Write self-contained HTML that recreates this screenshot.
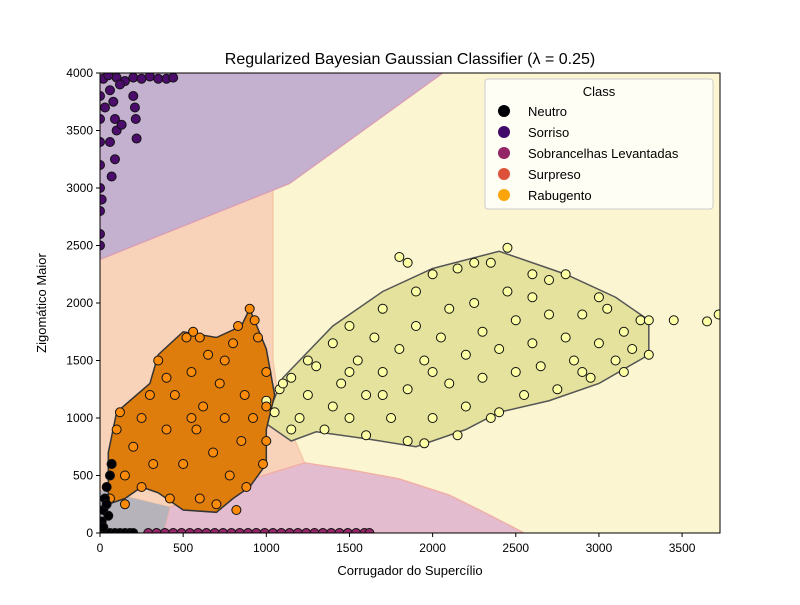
<!DOCTYPE html>
<html><head><meta charset="utf-8"><style>
body{margin:0;background:#fff;}
svg{font-family:"Liberation Sans","DejaVu Sans",sans-serif;}
</style></head><body>
<svg width="800" height="600" xmlns="http://www.w3.org/2000/svg">
<rect width="800" height="600" fill="#fff"/>
<defs><clipPath id="clip"><rect x="100" y="73" width="620" height="460"/></clipPath></defs>
<g id="plot" clip-path="url(#clip)"></g>
<g id="axes"></g>
<text x="410" y="64" text-anchor="middle" font-size="16">Regularized Bayesian Gaussian Classifier (λ = 0.25)</text>
<text x="410" y="575" text-anchor="middle" font-size="13">Corrugador do Supercílio</text>
<text transform="translate(46,303) rotate(-90)" text-anchor="middle" font-size="13">Zigomático Maior</text>
<g id="legend"></g>
</svg>
<script>
const xTicks=[0,500,1000,1500,2000,2500,3000,3500];
const yTicks=[0,500,1000,1500,2000,2500,3000,3500,4000];
const classes=["Neutro","Sorriso","Sobrancelhas Levantadas","Surpreso","Rabugento"];
const classColors=["#000004","#420a68","#932667","#dd513a","#fca50a"];
const regionPurple=[[0,4000],[2060,4000],[1140,3040],[0,2380]];
const regionPeach=[[0,2380],[1140,3040],[1040,2990],[1040,1500],[1060,1300],[1100,1050],[1230,610],[500,250],[420,226],[0,374]];
const regionGray=[[0,0],[0,374],[420,226],[380,0]];
const regionPink=[[380,0],[420,226],[500,260],[800,420],[1230,610],[1500,550],[1800,470],[2100,330],[2350,150],[2550,0]];
const hullYellow=[[1000,1000],[1100,1350],[1400,1800],[1700,2100],[2000,2300],[2400,2450],[2800,2250],[3100,2050],[3300,1850],[3300,1550],[3000,1300],[2700,1150],[2400,1050],[2200,900],[1900,750],[1600,820],[1300,880],[1150,800],[1000,950]];
const hullOrange=[[50,250],[50,700],[100,1050],[300,1300],[350,1550],[500,1750],[700,1700],[850,1800],[900,1950],[1000,1600],[1050,1200],[1000,900],[1000,600],[900,400],[800,300],[700,180],[500,200],[350,350],[250,400],[150,300]];
const ptsYellow=[[1000,1150],[1050,1050],[1080,1250],[1150,1350],[1200,1000],[1250,1200],[1300,1450],[1350,900],[1400,1100],[1400,1650],[1450,1300],[1500,1800],[1500,1000],[1550,1500],[1600,850],[1600,1200],[1650,1700],[1700,1950],[1700,1400],[1750,1000],[1800,1600],[1800,2400],[1850,800],[1850,1250],[1900,1800],[1900,2100],[1950,1500],[2000,1000],[2000,2250],[2050,1700],[2100,1300],[2100,1950],[2150,850],[2150,2300],[2200,1550],[2200,1100],[2250,2000],[2300,1750],[2300,1350],[2350,2350],[2400,1050],[2400,1600],[2450,2100],[2450,2480],[2500,1850],[2500,1400],[2550,1200],[2600,2050],[2600,1650],[2650,1450],[2700,1900],[2700,2200],[2750,1250],[2800,1700],[2800,2250],[2850,1500],[2900,1900],[2950,1350],[3000,1650],[3050,1950],[3100,1500],[3150,1750],[3200,1600],[3250,1850],[3300,1550],[3450,1850],[3650,1840],[3720,1900],[3300,1850],[1250,1500],[1150,900],[1100,1300],[3000,2050],[2900,1400],[1700,1200],[2000,1400],[1500,1400],[1850,2350],[2250,2350],[2600,2250],[3150,1400],[2350,1000],[1950,780]];
const ptsOrange=[[60,300],[70,600],[100,900],[120,1050],[150,500],[200,750],[250,1000],[300,1200],[320,600],[350,1500],[400,900],[420,300],[450,1200],[500,600],[520,1700],[550,1400],[580,900],[600,300],[620,1100],[650,1550],[680,700],[700,250],[720,1300],[750,1000],[780,500],[800,1650],[820,200],[850,800],[870,1200],[900,1950],[920,1000],[950,1700],[980,600],[1000,1400],[1000,800],[880,400],[250,400],[150,250],[400,1350],[600,1700],[750,1500],[550,1000],[560,1750],[830,1800],[930,1850],[1000,1100]];
const ptsPurple=[[20,3950],[50,3980],[100,3960],[150,3930],[200,3960],[250,3950],[300,3970],[350,3950],[400,3950],[440,3960],[60,3850],[80,3750],[90,3600],[100,3500],[130,3550],[200,3800],[210,3700],[215,3600],[220,3430],[60,3400],[90,3250],[70,3100],[0,2600],[0,2800],[0,3000],[0,3200],[0,3400],[0,3600],[0,3800],[0,2500],[10,2900],[120,3900],[30,3700]];
const ptsMagenta=[[290,0],[340,0],[390,0],[440,0],[490,0],[540,0],[590,0],[640,0],[690,0],[740,0],[790,0],[840,0],[890,0],[940,0],[990,0],[1040,0],[1090,0],[1140,0],[1190,0],[1240,0],[1290,0],[1340,0],[1390,0],[1440,0],[1490,0],[1540,0],[1590,0],[1620,0]];
const ptsBlack=[[0,0],[30,0],[60,0],[90,0],[120,0],[150,0],[180,0],[200,0],[10,100],[20,200],[30,300],[40,400],[60,500],[70,600],[50,150],[20,50],[40,250]];
const X=v=>100+v*620/3728, Y=v=>533-v*460/4000;
const NS="http://www.w3.org/2000/svg";
const plot=document.getElementById('plot'),axes=document.getElementById('axes'),legend=document.getElementById('legend');
function mk(t,a,p){const e=document.createElementNS(NS,t);for(const k in a)e.setAttribute(k,a[k]);p.appendChild(e);return e;}
const bg=mk('rect',{x:100,y:73,width:620,height:460,fill:'#fbf6d1'},plot);


function poly(pts,fill,name,stroke){const e=mk('polygon',{points:pts.map(p=>X(p[0])+','+Y(p[1])).join(' '),fill:fill,stroke:stroke||'none','stroke-width':stroke?1.5:0},plot);

}
poly(regionPeach,'#f8d2b9','region-rabugento','#f5c8a8');
poly(regionPurple,'#c3b1cf','region-sorriso','#d7a0b8');
poly(regionPink,'#e4bccf','region-sobrancelhas','#f0b0a8');
poly(regionGray,'#b6b4ba','region-neutro');
poly(hullYellow,'#e4e29c','cluster-yellow-area','#555');
poly(hullOrange,'#de7c0c','cluster-orange-area','#333');
function pts(arr,fill,name){arr.forEach(p=>{const c=mk('circle',{cx:X(p[0]),cy:Y(p[1]),r:4.5,fill:fill,stroke:'#111','stroke-width':1},plot);

});}
pts(ptsYellow,'#fcffa4','point-yellow');
pts(ptsOrange,'#fb8b08','point-rabugento');
pts(ptsPurple,'#4c0c6b','point-sorriso');
pts(ptsMagenta,'#932667','point-sobrancelhas');
pts(ptsBlack,'#000004','point-neutro');
const fr=mk('rect',{x:100,y:73,width:620,height:460,fill:'none',stroke:'#000','stroke-width':1},axes);


xTicks.forEach(t=>{mk('line',{x1:X(t),x2:X(t),y1:533,y2:537,stroke:'#000'},axes);
const l=mk('text',{x:X(t),y:552,'text-anchor':'middle','font-size':12},axes);l.textContent=t;

});
yTicks.forEach(t=>{mk('line',{x1:96,x2:100,y1:Y(t),y2:Y(t),stroke:'#000'},axes);
const l=mk('text',{x:93,y:Y(t)+4,'text-anchor':'end','font-size':12},axes);l.textContent=t;

});
mk('rect',{x:485,y:79,width:228,height:130,rx:3,fill:'#fffffa','fill-opacity':0.85,stroke:'#ccc'},legend);
const lt=mk('text',{x:599,y:96,'text-anchor':'middle','font-size':13},legend);lt.textContent='Class';
classes.forEach((c,i)=>{const y=111+i*21;
const m=mk('circle',{cx:504,cy:y,r:6,fill:classColors[i]},legend);


const t=mk('text',{x:528,y:y+5,'font-size':13},legend);t.textContent=c;

});
</script>
</body></html>
